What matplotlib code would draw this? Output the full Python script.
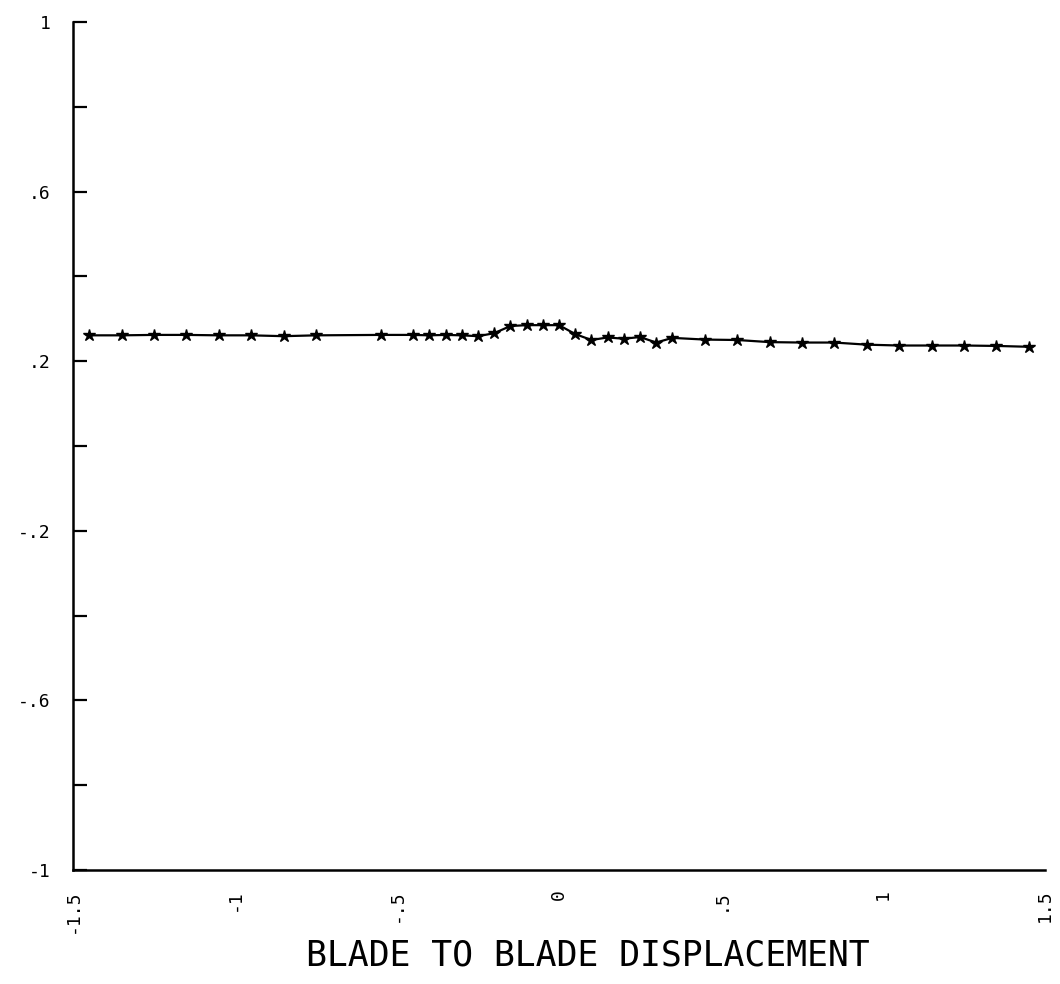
import matplotlib
matplotlib.use("Agg")
import matplotlib.pyplot as plt

# blade to blade displacement vs. value
displacement = [-1.45, -1.35, -1.25, -1.15, -1.05, -0.95, -0.85, -0.75,
                -0.55, -0.45, -0.40, -0.35, -0.30, -0.25, -0.20, -0.15,
                -0.10, -0.05, 0.00, 0.05, 0.10, 0.15, 0.20, 0.25,
                0.30, 0.35, 0.45, 0.55, 0.65, 0.75, 0.85, 0.95,
                1.05, 1.15, 1.25, 1.35, 1.45]
values = [0.261, 0.261, 0.262, 0.262, 0.261, 0.261, 0.259, 0.261,
          0.262, 0.262, 0.261, 0.262, 0.261, 0.259, 0.266, 0.283,
          0.285, 0.285, 0.285, 0.264, 0.250, 0.256, 0.253, 0.257,
          0.244, 0.255, 0.251, 0.250, 0.245, 0.244, 0.244, 0.239,
          0.237, 0.237, 0.237, 0.236, 0.234]

x_ticks = [-1.5, -1.0, -0.5, 0.0, 0.5, 1.0, 1.5]
x_labels = ["-1.5", "-1", "-.5", "0", ".5", "1", "1.5"]
y_ticks = [-1.0, -0.8, -0.6, -0.4, -0.2, 0.0, 0.2, 0.4, 0.6, 0.8, 1.0]
y_labels = ["-1", "", "-.6", "", "-.2", "", ".2", "", ".6", "", "1"]

plt.rcParams["font.family"] = ["DejaVu Sans Mono", "DejaVu Sans"]

fig = plt.figure(figsize=(10.6, 9.84), dpi=100)
ax = fig.add_axes([73 / 1060, 1 - 870 / 984, 972 / 1060, 848 / 984])

ax.plot(displacement, values, "-", color="black", lw=1.6,
        marker="*", ms=9, mfc="black", mec="black")

ax.set_xlim(-1.5, 1.5)
ax.set_ylim(-1, 1)

ax.spines["top"].set_visible(False)
ax.spines["right"].set_visible(False)
ax.spines["left"].set_linewidth(1.8)
ax.spines["bottom"].set_linewidth(1.8)

ax.set_yticks(y_ticks, y_labels, fontsize=13)
ax.tick_params(axis="y", direction="in", length=10, width=1.6, pad=16)

ax.set_xticks(x_ticks, x_labels, rotation=90, fontsize=13)
ax.tick_params(axis="x", length=0, pad=14)
ax.set_xticks([-0.5, 0.5], minor=True)
ax.tick_params(axis="x", which="minor", direction="in", length=8, width=1.4)

fig.text(588 / 1060, 1 - 956 / 984, "BLADE TO BLADE DISPLACEMENT",
         ha="center", va="center", fontsize=25)

fig.savefig("out.png", dpi=100)
